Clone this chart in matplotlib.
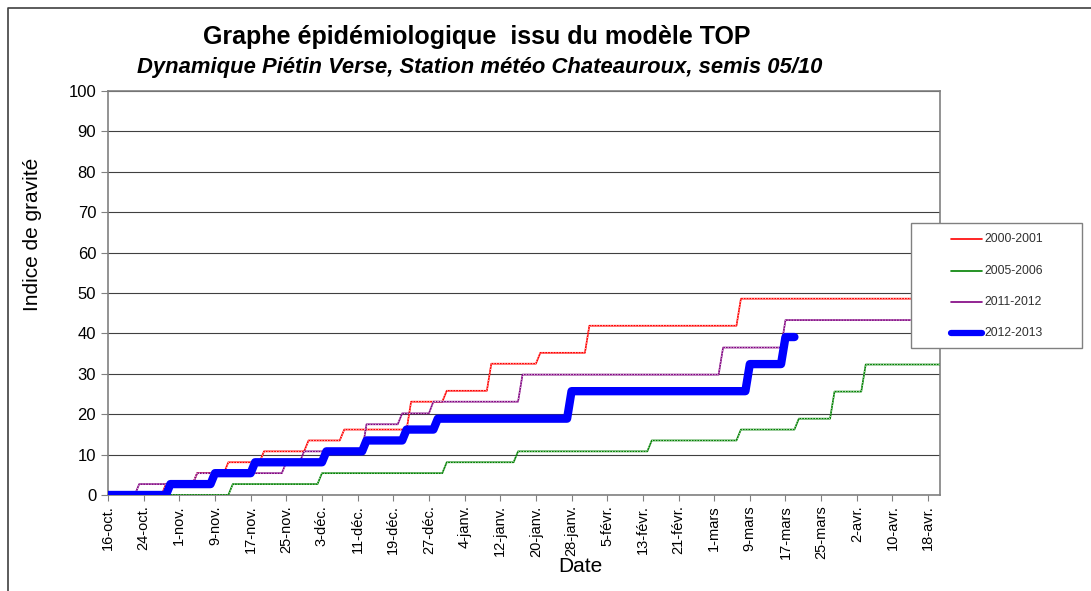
import matplotlib
matplotlib.use("Agg")
import matplotlib.pyplot as plt
import matplotlib.dates as mdates
from matplotlib.lines import Line2D
from matplotlib.patches import Rectangle
import numpy as np
import pandas as pd

# change points (date, indice de gravité) for each campaign, mapped onto the 2012-2013 calendar
DATES_2000 = ["2012-10-16", "2012-10-29", "2012-11-05", "2012-11-12", "2012-11-20", "2012-11-30",
              "2012-12-08", "2012-12-23", "2012-12-31", "2013-01-10", "2013-01-21", "2013-02-01",
              "2013-03-07", "2013-04-21"]
VALUES_2000 = [0, 2.7, 5.4, 8.1, 10.8, 13.5, 16.2, 23.1, 25.8, 32.5, 35.2, 41.9, 48.6, 48.6]

DATES_2005 = ["2012-10-16", "2012-11-13", "2012-12-03", "2012-12-31", "2013-01-16", "2013-02-15",
              "2013-03-07", "2013-03-20", "2013-03-28", "2013-04-04", "2013-04-21"]
VALUES_2005 = [0, 2.7, 5.4, 8.1, 10.8, 13.5, 16.2, 18.9, 25.6, 32.3, 32.3]

DATES_2011 = ["2012-10-16", "2012-10-23", "2012-11-05", "2012-11-25", "2012-11-29", "2012-12-13",
              "2012-12-21", "2012-12-28", "2013-01-17", "2013-03-03", "2013-03-17", "2013-04-21"]
VALUES_2011 = [0, 2.7, 5.4, 8.1, 10.8, 17.5, 20.2, 23.1, 29.8, 36.5, 43.3, 43.3]

DATES_2012 = ["2012-10-16", "2012-10-30", "2012-11-09", "2012-11-18", "2012-12-04", "2012-12-13",
              "2012-12-22", "2012-12-29", "2013-01-28", "2013-03-09", "2013-03-17", "2013-03-19"]
VALUES_2012 = [0, 2.7, 5.4, 8.1, 10.8, 13.5, 16.2, 18.9, 25.7, 32.4, 39.1, 39.1]

SERIES = [
    ("2000-2001", DATES_2000, VALUES_2000, "#ff0000", 1.2),
    ("2005-2006", DATES_2005, VALUES_2005, "#008000", 1.2),
    ("2011-2012", DATES_2011, VALUES_2011, "#800080", 1.2),
    ("2012-2013", DATES_2012, VALUES_2012, "#0000ff", 6.0),
]

MONTHS_FR = {10: "oct.", 11: "nov.", 12: "déc.", 1: "janv.", 2: "févr.", 3: "mars", 4: "avr."}

W, H = 1091, 591


def daily_steps(dates, values):
    # daily series: each change happens over one day, like the original daily curve
    d = pd.to_datetime(dates)
    xs, ys = [d[0]], [values[0]]
    for i in range(1, len(d)):
        if values[i] != values[i - 1]:
            xs.append(d[i] - pd.Timedelta(days=1))
            ys.append(values[i - 1])
        xs.append(d[i])
        ys.append(values[i])
    return xs, ys


def fr_date(x, pos=None):
    dt = mdates.num2date(x)
    return f"{dt.day}-{MONTHS_FR[dt.month]}"


def fx(px):
    return px / W


def fy(py):
    return 1 - py / H


plt.rcParams["font.family"] = ["Liberation Sans", "DejaVu Sans"]

fig = plt.figure(figsize=(W / 100, H / 100), dpi=100)
ax = fig.add_axes([fx(108), fy(495), 832 / W, 404 / H])

for label, dates, values, color, lw in SERIES:
    xs, ys = daily_steps(dates, values)
    ax.plot(xs, ys, color=color, lw=lw, solid_capstyle="round", solid_joinstyle="round",
            label=label, zorder=3 if lw < 3 else 4)
    if lw < 3:
        ax.plot(xs, ys, color="white", lw=0.5, ls=(0, (1.5, 2.5)), zorder=3.5)

ax.set_xlim(pd.Timestamp("2012-10-16"), pd.Timestamp("2013-04-20 16:00"))
ax.set_ylim(0, 100)
ax.set_yticks(np.arange(0, 101, 10))
ticks = pd.date_range("2012-10-16", "2013-04-20", freq="8D")
ax.set_xticks(ticks)
ax.xaxis.set_major_formatter(plt.FuncFormatter(fr_date))
ax.tick_params(axis="x", labelrotation=90, labelsize=10.5, length=4, direction="out", colors="#808080",
               labelcolor="black")
ax.tick_params(axis="y", labelsize=12, length=5, direction="out", colors="#808080", labelcolor="black")
ax.grid(axis="y", color="#404040", lw=0.8)
ax.set_axisbelow(True)
for side in ["left", "bottom", "right", "top"]:
    ax.spines[side].set_color("#808080")
    ax.spines[side].set_linewidth(1.2)

fig.text(fx(580), fy(567), "Date", ha="center", va="center", fontsize=15)
fig.text(fx(33), fy(234), "Indice de gravité", ha="center", va="center", rotation=90, fontsize=15)

fig.text(fx(477), fy(37), "Graphe épidémiologique  issu du modèle TOP",
         ha="center", va="center", fontsize=18, fontweight="bold")
fig.text(fx(480), fy(67), "Dynamique Piétin Verse, Station météo Chateauroux, semis 05/10",
         ha="center", va="center", fontsize=15.8, fontweight="bold", fontstyle="italic")

# legend box, drawn like the spreadsheet one
fig.add_artist(Rectangle((fx(911), fy(348)), 171 / W, 125 / H, transform=fig.transFigure,
                         facecolor="white", edgecolor="#808080", lw=1.0, zorder=5))
for i, (label, _, _, color, lw) in enumerate(SERIES):
    yy = fy(239.3 + i * 31.3)
    fig.add_artist(Line2D([fx(951), fx(982)], [yy, yy], transform=fig.transFigure, color=color,
                          lw=(1.2 if lw < 3 else 4.5), solid_capstyle="round", zorder=6))
    fig.text(fx(984), yy, label, ha="left", va="center", fontsize=8.8, color="#303030", zorder=6)

# outer chart-area frame
fig.add_artist(Line2D([fx(8), fx(8), 1.0], [0.0, fy(8), fy(8)],
                      transform=fig.transFigure, color="#404040", lw=1.2))

fig.savefig("out.png", dpi=100)
